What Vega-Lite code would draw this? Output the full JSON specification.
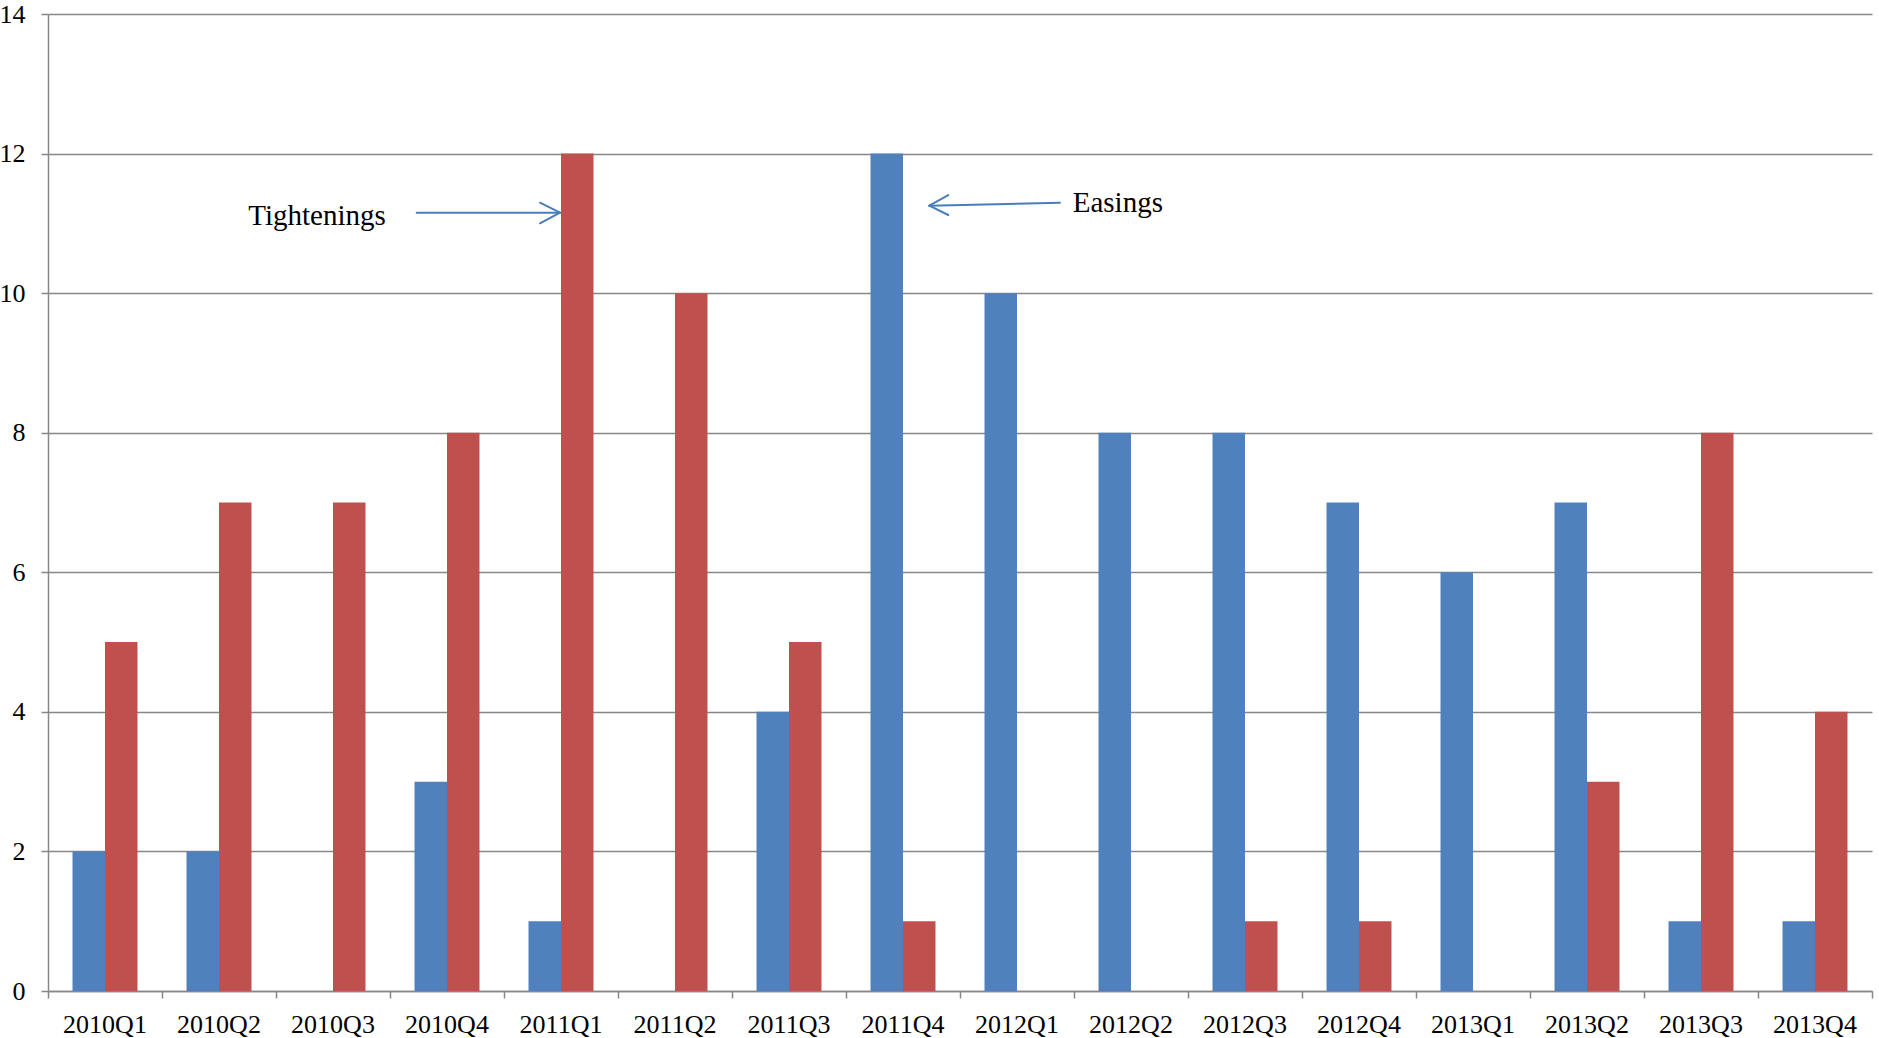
{
  "$schema": "https://vega.github.io/schema/vega-lite/v6.json",
  "autosize": "none",
  "width": 1824,
  "height": 977,
  "padding": {"left": 48, "top": 14, "right": 7, "bottom": 47},
  "background": "#ffffff",
  "config": {
    "view": {"stroke": null},
    "font": "Liberation Serif",
    "axis": {
      "labelFont": "Liberation Serif",
      "labelFontSize": 26,
      "labelColor": "#000000",
      "domainColor": "#878787",
      "domainWidth": 1.5,
      "tickColor": "#878787",
      "tickWidth": 1.5,
      "gridColor": "#878787",
      "gridWidth": 1.5,
      "gridOpacity": 1,
      "title": null
    }
  },
  "datasets": {
    "decisions": [
      {"quarter": "2010Q1", "series": "Easings", "count": 2},
      {"quarter": "2010Q1", "series": "Tightenings", "count": 5},
      {"quarter": "2010Q2", "series": "Easings", "count": 2},
      {"quarter": "2010Q2", "series": "Tightenings", "count": 7},
      {"quarter": "2010Q3", "series": "Easings", "count": 0},
      {"quarter": "2010Q3", "series": "Tightenings", "count": 7},
      {"quarter": "2010Q4", "series": "Easings", "count": 3},
      {"quarter": "2010Q4", "series": "Tightenings", "count": 8},
      {"quarter": "2011Q1", "series": "Easings", "count": 1},
      {"quarter": "2011Q1", "series": "Tightenings", "count": 12},
      {"quarter": "2011Q2", "series": "Easings", "count": 0},
      {"quarter": "2011Q2", "series": "Tightenings", "count": 10},
      {"quarter": "2011Q3", "series": "Easings", "count": 4},
      {"quarter": "2011Q3", "series": "Tightenings", "count": 5},
      {"quarter": "2011Q4", "series": "Easings", "count": 12},
      {"quarter": "2011Q4", "series": "Tightenings", "count": 1},
      {"quarter": "2012Q1", "series": "Easings", "count": 10},
      {"quarter": "2012Q1", "series": "Tightenings", "count": 0},
      {"quarter": "2012Q2", "series": "Easings", "count": 8},
      {"quarter": "2012Q2", "series": "Tightenings", "count": 0},
      {"quarter": "2012Q3", "series": "Easings", "count": 8},
      {"quarter": "2012Q3", "series": "Tightenings", "count": 1},
      {"quarter": "2012Q4", "series": "Easings", "count": 7},
      {"quarter": "2012Q4", "series": "Tightenings", "count": 1},
      {"quarter": "2013Q1", "series": "Easings", "count": 6},
      {"quarter": "2013Q1", "series": "Tightenings", "count": 0},
      {"quarter": "2013Q2", "series": "Easings", "count": 7},
      {"quarter": "2013Q2", "series": "Tightenings", "count": 3},
      {"quarter": "2013Q3", "series": "Easings", "count": 1},
      {"quarter": "2013Q3", "series": "Tightenings", "count": 8},
      {"quarter": "2013Q4", "series": "Easings", "count": 1},
      {"quarter": "2013Q4", "series": "Tightenings", "count": 4}
    ],
    "arrows": [
      {"x": 3.234, "y": 11.153, "x2": 4.491, "y2": 11.153},
      {"x": 4.316, "y": 11.296, "x2": 4.491, "y2": 11.153},
      {"x": 4.316, "y": 11.001, "x2": 4.491, "y2": 11.153},
      {"x": 8.877, "y": 11.296, "x2": 7.731, "y2": 11.253},
      {"x": 7.897, "y": 11.406, "x2": 7.731, "y2": 11.253},
      {"x": 7.897, "y": 11.120, "x2": 7.731, "y2": 11.253}
    ],
    "labels": [
      {"x": 1.757, "y": 10.976, "label": "Tightenings"},
      {"x": 8.989, "y": 11.167, "label": "Easings"}
    ]
  },
  "layer": [
    {
      "data": {"name": "decisions"},
      "mark": {"type": "bar"},
      "encoding": {
        "x": {
          "field": "quarter",
          "type": "nominal",
          "scale": {"paddingInner": 0, "paddingOuter": 0},
          "axis": {
            "ticks": false,
            "tickSize": 0,
            "labelPadding": 20,
            "labelAngle": 0,
            "grid": false
          }
        },
        "xOffset": {
          "field": "series",
          "type": "nominal",
          "scale": {"domain": ["Easings", "Tightenings"], "paddingInner": 0, "paddingOuter": 0.754}
        },
        "y": {
          "field": "count",
          "type": "quantitative",
          "scale": {"domain": [0, 14], "nice": false},
          "axis": {
            "values": [0, 2, 4, 6, 8, 10, 12, 14],
            "format": "d",
            "tickSize": 7,
            "labelPadding": 16,
            "grid": true
          }
        },
        "color": {
          "field": "series",
          "type": "nominal",
          "scale": {"domain": ["Easings", "Tightenings"], "range": ["#4f81bd", "#c0504d"]},
          "legend": null
        }
      }
    },
    {
      "layer": [
        {
          "data": {"name": "arrows"},
          "mark": {"type": "rule", "color": "#4a7ebb", "strokeWidth": 2, "strokeCap": "round"},
          "encoding": {
            "x": {
              "field": "x",
              "type": "quantitative",
              "scale": {"domain": [0, 16], "nice": false, "zero": false},
              "axis": {
                "orient": "bottom",
                "values": [0, 1, 2, 3, 4, 5, 6, 7, 8, 9, 10, 11, 12, 13, 14, 15, 16],
                "labels": false,
                "domain": false,
                "grid": false,
                "ticks": true,
                "tickSize": 7
              }
            },
            "x2": {"field": "x2"},
            "y": {"field": "y", "type": "quantitative", "axis": {"format": "d"}},
            "y2": {"field": "y2"}
          }
        },
        {
          "data": {"name": "labels"},
          "mark": {
            "type": "text",
            "align": "left",
            "baseline": "alphabetic",
            "font": "Liberation Serif",
            "fontSize": 29,
            "color": "#000000"
          },
          "encoding": {
            "x": {
              "field": "x",
              "type": "quantitative",
              "scale": {"domain": [0, 16], "nice": false, "zero": false}
            },
            "y": {"field": "y", "type": "quantitative", "axis": {"format": "d"}},
            "text": {"field": "label"}
          }
        }
      ]
    }
  ],
  "resolve": {"scale": {"x": "independent"}, "axis": {"x": "independent"}}
}
